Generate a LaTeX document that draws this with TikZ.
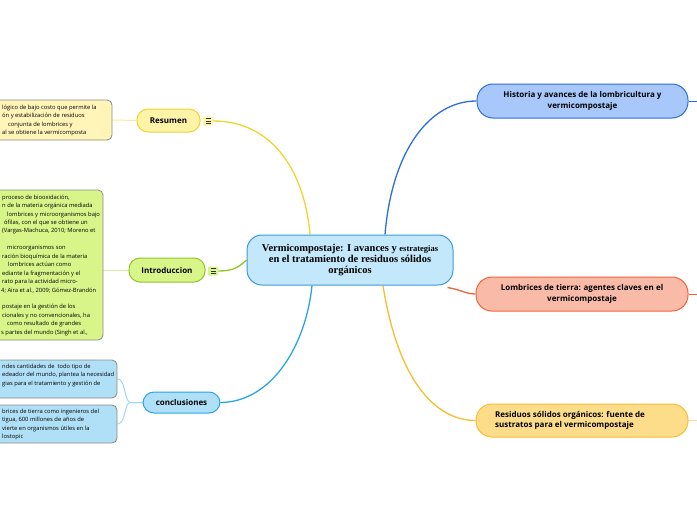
\documentclass[tikz,border=0pt]{standalone}
\usepackage{fontspec}
\setmainfont{Open Sans}
\newfontfamily\titlefont{Liberation Serif}
\usetikzlibrary{backgrounds,calc}
\definecolor{cfill}{HTML}{C4E8FB}\definecolor{cline}{HTML}{3A9AD9}
\definecolor{hfill}{HTML}{A8C8FB}\definecolor{hline}{HTML}{2B6FD6}
\definecolor{lfill}{HTML}{F9BBA8}\definecolor{lline}{HTML}{F0643A}
\definecolor{rfill}{HTML}{FDDC8A}\definecolor{rline}{HTML}{F7BE2E}
\definecolor{yfill}{HTML}{FFF3A8}\definecolor{yline}{HTML}{F0D430}
\definecolor{gfill}{HTML}{D8F58A}\definecolor{gline}{HTML}{94C426}
\definecolor{bfill}{HTML}{B0E0F8}\definecolor{bline}{HTML}{2AA4E8}
\definecolor{boxedge}{HTML}{8A8A84}
\tikzset{
  pill/.style={draw, line width=1pt, rounded corners=#1, inner sep=0pt, align=center,
    font=\fontsize{8}{10.5}\selectfont\bfseries},
  pill/.default=11pt,
  leafbox/.style={draw=boxedge, line width=0.8pt, rounded corners=5pt, inner sep=0pt},
  small/.style={anchor=north west, align=left, inner sep=0pt, font=\fontsize{5.8}{8.45}\selectfont},
  conn/.style={line width=1.3pt},
  thin/.style={line width=1pt},
  iconbox/.style={inner sep=0pt, minimum width=10pt, minimum height=9pt, rounded corners=1pt}
}
\begin{document}
\begin{tikzpicture}[x=1pt,y=-1pt]
\clip (0,0) rectangle (697,520);
\useasboundingbox (0,0) rectangle (697,520);
% central
\node[pill=15pt, fill=cfill, draw=cline, minimum width=206pt, minimum height=50pt,
  font=\titlefont\bfseries] (c) at (350,260)
  {{\fontsize{10.5}{13.5}\selectfont Vermicompostaje: I avances y {\fontsize{8.5}{13.5}\selectfont estrategias}}\\[-1pt]
   {\fontsize{10.5}{13.5}\selectfont en el tratamiento de residuos sólidos}\\[-1pt]
   {\fontsize{10.5}{13.5}\selectfont orgánicos}};
% right nodes
\node[pill=16pt, fill=hfill, draw=hline, minimum width=211pt, minimum height=34pt] (h) at (582.5,101)
  {Historia y avances de la lombricultura y\\vermicompostaje};
\node[pill=16pt, fill=lfill, draw=lline, minimum width=212pt, minimum height=34pt] (l) at (582,294)
  {Lombrices de tierra: agentes claves en el\\vermicompostaje};
\node[pill=16pt, fill=rfill, draw=rline, minimum width=212pt, minimum height=33pt] (r) at (582,420.5) {};
\node[anchor=west, align=left, inner sep=0pt, font=\fontsize{8}{10.5}\selectfont\bfseries] (rt) at (495,420.5)
  {Residuos sólidos orgánicos: fuente de\\sustratos para el vermicompostaje};
\coordinate (hx) at (700,101);
\coordinate (lx) at (700,294);
\coordinate (rx) at (700,420.5);
% left main nodes
\node[pill, fill=yfill, draw=yline, minimum width=63pt, minimum height=23pt] (s) at (168.5,120.5) {Resumen};
\node[pill, fill=gfill, draw=gline, minimum width=76pt, minimum height=24pt] (i) at (167,270) {Introduccion};
\node[pill, fill=bfill, draw=bline, minimum width=77pt, minimum height=21pt] (k) at (181.5,402.5) {conclusiones};
% icons
\node[iconbox, fill=yfill] (si) at (208,121) {};
\node[iconbox, fill=gfill] (ii) at (213,271) {};
\foreach \n in {si,ii}{
  \foreach \dy in {-2.5,0,2.5}{
    \draw[line width=0.7pt, black!80] ([xshift=-2.5pt,yshift=\dy pt]\n.center) -- ([xshift=2.5pt,yshift=\dy pt]\n.center);
  }
}
% left leaf boxes
\node[leafbox, fill=yfill!80!white, minimum width=172pt, minimum height=40pt] (sb) at (26,120) {};
\node[leafbox, fill=gfill, minimum width=163pt, minimum height=150pt] (gb) at (21.5,265) {};
\node[leafbox, fill=bfill, minimum width=177pt, minimum height=38pt] (kb1) at (28.5,379) {};
\node[leafbox, fill=bfill, minimum width=177pt, minimum height=38pt] (kb2) at (28.5,424) {};
% leaf texts
\node[small] (sbt) at (0,104.5) {\hspace*{2pt}lógico de bajo costo que permite la\\
\hspace*{2pt}ón y estabilización de residuos\\
\hspace*{8pt}conjunta de lombrices y\\
\hspace*{2pt}al se obtiene la vermicomposta};
\node[small] (gbt) at (0,194.5) {\hspace*{2pt}proceso de biooxidación,\\
\hspace*{2pt}n de la materia orgánica mediada\\
\hspace*{7pt}lombrices y microorganismos bajo\\
\hspace*{4pt}ófilas, con el que se obtiene un\\
\hspace*{2pt}(Vargas-Machuca, 2010; Moreno et\\[8.45pt]
\hspace*{7pt}microorganismos son\\
\hspace*{2pt}ración bioquímica de la materia\\
\hspace*{8pt}lombrices actúan como\\
\hspace*{2pt}ediante la fragmentación y el\\
\hspace*{2pt}rato para la actividad micro-\\
\hspace*{1pt}4; Aira et al., 2009; Gómez-Brandón\\[8.45pt]
\hspace*{2pt}postaje en la gestión de los\\
\hspace*{2pt}cionales y no convencionales, ha\\
\hspace*{7pt}como resultado de grandes\\
\hspace*{1pt}s partes del mundo (Singh et al.,};
\node[small] (kb1t) at (0,363.5) {\hspace*{2pt}ndes cantidades de\ \ todo tipo de\\
\hspace*{2pt}edeador del mundo, plantea la necesidad\\
\hspace*{2pt}gias para el tratamiento y gestión de};
\node[small] (kb2t) at (0,408.5) {\hspace*{2pt}brices de tierra como ingenieros del\\
\hspace*{2pt}tigua, 600 millones de años de\\
\hspace*{2pt}vierte en organismos útiles en la\\
\hspace*{2pt}lostopic};
% connectors
\begin{scope}[on background layer]
\draw[conn, draw=yline] (si.east) .. controls (275,121) and (305,175) .. ([xshift=-40pt]c.north);
\draw[conn, draw=gline] (ii.east) .. controls (232,271) and (238,268) .. (c.west);
\draw[conn, draw=bline] (k.east) .. controls (272,402) and (306,345) .. ([xshift=-38pt]c.south);
\draw[conn, draw=hline] ([xshift=35pt]c.north) .. controls (392,150) and (430,101) .. (h.west);
\draw[conn, draw=lline] ([xshift=-6pt,yshift=-2pt]c.south east) .. controls (462,290) and (466,294) .. (l.west);
\draw[conn, draw=rline] ([xshift=33pt]c.south) .. controls (398,380) and (435,420.5) .. (r.west);
\draw[thin, draw=hline] (h.east) -- (hx);
\draw[thin, draw=lline] (l.east) -- (lx);
\draw[thin, draw=rline!50] (r.east) -- (rx);
\draw[thin, draw=yline!50] (sb.east) -- (s.west);
\draw[thin, draw=gline!40] (i.west) -- (i.west -| gb.east);
\draw[thin, draw=bline!45] (k.west) -- ++(-12,0) .. controls (124,402) and (126,379) .. (kb1.east);
\draw[thin, draw=bline!45] (k.west) -- ++(-12,0) .. controls (124,402) and (126,424) .. (kb2.east);
\end{scope}
\end{tikzpicture}
\end{document}
